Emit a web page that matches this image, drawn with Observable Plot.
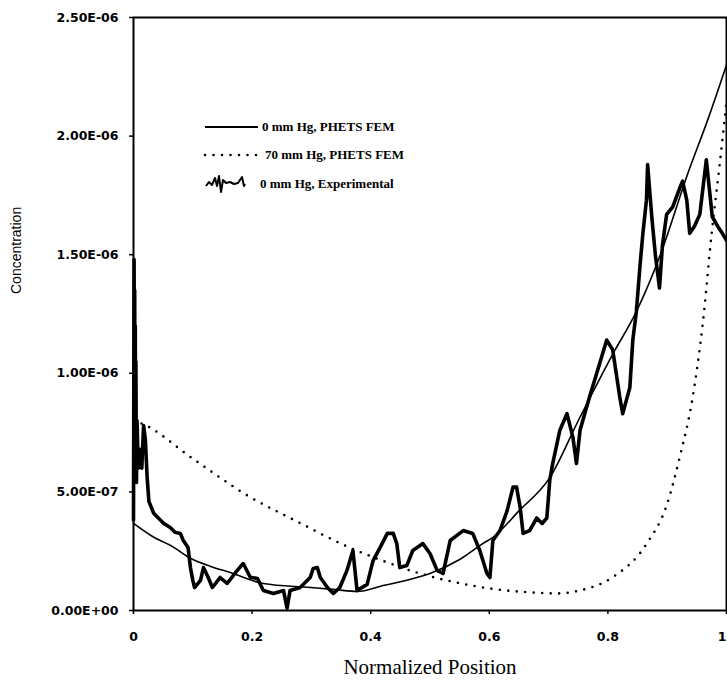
<!DOCTYPE html>
<html>
<head>
<meta charset="utf-8">
<script src="https://cdn.jsdelivr.net/npm/d3@7"></script>
<script src="https://cdn.jsdelivr.net/npm/@observablehq/plot@0.6"></script>
<style>
html,body{margin:0;padding:0;background:#fff;}
#wrap{position:relative;width:727px;height:685px;overflow:hidden;background:#fff;}
.legend{position:absolute;left:0;top:0;font-family:"Liberation Serif",serif;font-weight:bold;font-size:13px;color:#000;}
.row{position:absolute;display:flex;align-items:center;white-space:nowrap;}
.row svg{display:block;}
</style>
</head>
<body>
<div id="wrap"></div>
<script>
// ---- axes ----
const xTicks = [0, 0.2, 0.4, 0.6, 0.8, 1];
const xTickLabels = ["0", "0.2", "0.4", "0.6", "0.8", "1"];
// concentration values are stored in units of 1e-7
const yTicks = [0, 5, 10, 15, 20, 25];
const yTickLabels = ["0.00E+00", "5.00E-07", "1.00E-06", "1.50E-06", "2.00E-06", "2.50E-06"];

const seriesNames = ["0 mm Hg, PHETS FEM", "70 mm Hg, PHETS FEM", "0 mm Hg, Experimental"];

// ---- 0 mm Hg, PHETS FEM (solid) ----
const fem0X = [0, 0.03, 0.068, 0.096, 0.13, 0.163, 0.219, 0.298, 0.34, 0.377, 0.421, 0.478, 0.5, 0.55, 0.589, 0.606, 0.65, 0.702, 0.75, 0.808, 0.848, 0.89, 0.933, 0.97, 1.0];
const fem0C = [3.67, 3.15, 2.66, 2.2, 1.86, 1.6, 1.14, 0.97, 0.88, 0.8, 1.05, 1.39, 1.56, 2.15, 2.82, 3.08, 4.2, 5.6, 8.0, 10.8, 12.6, 15.1, 18.3, 20.8, 23.0];

// ---- 70 mm Hg, PHETS FEM (dotted) ----
const fem70X = [0, 0.012, 0.1, 0.192, 0.28, 0.36, 0.42, 0.478, 0.55, 0.613, 0.66, 0.714, 0.752, 0.808, 0.865, 0.9, 0.921, 0.943, 0.96, 0.975, 0.988, 1.0];
const fem70C = [8.0, 7.9, 6.4, 4.85, 3.7, 2.7, 2.1, 1.6, 1.15, 0.89, 0.78, 0.72, 0.84, 1.4, 2.8, 4.5, 6.45, 9.0, 12.1, 15.9, 18.7, 21.4];

// ---- 0 mm Hg, Experimental (noisy) ----
const expX = [0.000, 0.001, 0.0015, 0.002, 0.0025, 0.003, 0.0035, 0.004, 0.005, 0.006, 0.008, 0.011, 0.014, 0.017, 0.020, 0.023, 0.026, 0.034, 0.051, 0.062, 0.070, 0.079, 0.084, 0.092, 0.094, 0.096, 0.100, 0.103, 0.113, 0.118, 0.126, 0.133, 0.146, 0.158, 0.175, 0.185, 0.197, 0.209, 0.219, 0.236, 0.253, 0.259, 0.264, 0.281, 0.298, 0.303, 0.310, 0.315, 0.327, 0.337, 0.348, 0.360, 0.370, 0.377, 0.394, 0.404, 0.416, 0.428, 0.438, 0.444, 0.449, 0.461, 0.471, 0.488, 0.500, 0.512, 0.522, 0.534, 0.556, 0.572, 0.584, 0.596, 0.601, 0.606, 0.618, 0.630, 0.640, 0.646, 0.652, 0.657, 0.668, 0.680, 0.689, 0.697, 0.702, 0.707, 0.719, 0.731, 0.741, 0.747, 0.753, 0.769, 0.786, 0.798, 0.808, 0.820, 0.825, 0.837, 0.842, 0.848, 0.854, 0.859, 0.865, 0.867, 0.874, 0.880, 0.887, 0.892, 0.899, 0.909, 0.921, 0.926, 0.933, 0.938, 0.946, 0.955, 0.966, 0.971, 0.976, 0.985, 0.993, 1.000];
const expC = [3.8, 14.8, 9.5, 13.5, 7.5, 12.0, 6.5, 10.5, 5.4, 8.0, 6.0, 6.8, 6.0, 7.8, 7.2, 5.6, 4.6, 4.1, 3.67, 3.5, 3.3, 3.25, 2.95, 2.66, 2.23, 1.81, 1.27, 0.97, 1.27, 1.81, 1.39, 0.97, 1.39, 1.14, 1.69, 1.98, 1.4, 1.35, 0.84, 0.72, 0.84, 0.1, 0.84, 0.97, 1.39, 1.77, 1.81, 1.39, 0.97, 0.72, 0.97, 1.69, 2.53, 0.84, 1.1, 2.1, 2.66, 3.25, 3.25, 2.82, 1.81, 1.9, 2.53, 2.82, 2.4, 1.69, 1.56, 2.95, 3.37, 3.25, 2.53, 1.56, 1.39, 2.95, 3.37, 4.2, 5.2, 5.2, 4.35, 3.25, 3.37, 3.9, 3.67, 3.9, 5.5, 6.2, 7.6, 8.3, 7.3, 6.2, 7.6, 9.0, 10.4, 11.4, 11.0, 9.0, 8.3, 9.4, 11.4, 12.6, 14.5, 15.9, 17.3, 18.8, 16.6, 15.0, 13.6, 15.4, 16.7, 17.0, 17.8, 18.1, 17.3, 15.9, 16.2, 16.7, 19.0, 17.8, 16.6, 16.2, 15.9, 15.6];

const toRows = (xs, ys) => xs.map((x, i) => ({x, y: ys[i]}));
const fem0 = toRows(fem0X, fem0C);
const fem70 = toRows(fem70X, fem70C);
const exp = toRows(expX, expC);

const tickText = {fontSize: 12.5, fontWeight: "bold", fontFamily: "DejaVu Sans", label: null, strokeWidth: 1.5, tickSize: 4};

const chart = Plot.plot({
  width: 727,
  height: 685,
  marginLeft: 133,
  marginRight: 1,
  marginTop: 17,
  marginBottom: 75,
  style: {background: "white", color: "black", fontFamily: "DejaVu Sans"},
  x: {domain: [0, 1]},
  y: {domain: [0, 25]},
  marks: [
    Plot.axisY(yTicks, {...tickText, tickPadding: 11, tickFormat: d => yTickLabels[yTicks.indexOf(d)]}),
    Plot.axisX(xTicks.slice(0, -1), {...tickText, tickPadding: 18, tickFormat: d => xTickLabels[xTicks.indexOf(d)]}),
    Plot.axisX(xTicks.slice(-1), {...tickText, tickPadding: 18, textAnchor: "end", tickFormat: d => xTickLabels[xTicks.indexOf(d)]}),
    Plot.frame({stroke: "black", strokeWidth: 2}),
    Plot.line(fem70, {x: "x", y: "y", stroke: "black", strokeWidth: 2.6, strokeDasharray: "0 8.5", strokeLinecap: "round", curve: "monotone-x"}),
    Plot.line(fem0, {x: "x", y: "y", stroke: "black", strokeWidth: 1.6, curve: "monotone-x"}),
    Plot.line(exp, {x: "x", y: "y", stroke: "black", strokeWidth: 3.6, strokeLinejoin: "round", strokeLinecap: "round"}),
    Plot.text(["Normalized Position"], {text: d => d, frameAnchor: "bottom", dy: 63, fontSize: 21, fontFamily: "Liberation Serif", fill: "black"}),
    Plot.text(["Concentration"], {text: d => d, frameAnchor: "left", dx: -117, dy: -20, rotate: -90, fontSize: 14, fontFamily: "Liberation Sans", fill: "black"})
  ]
});

const wrap = document.getElementById("wrap");
wrap.appendChild(chart);

// ---- legend (HTML overlay inside the plot area) ----
const legend = document.createElement("div");
legend.className = "legend";
legend.innerHTML = `
  <div class="row" style="left:205px;top:119px;height:16px;">
    <svg width="57" height="16"><line x1="0" y1="8" x2="53" y2="8" stroke="black" stroke-width="1.8"/></svg>
    <span>${seriesNames[0]}</span>
  </div>
  <div class="row" style="left:203px;top:147px;height:16px;">
    <svg width="62" height="16"><line x1="2" y1="8" x2="54" y2="8" stroke="black" stroke-width="2.6" stroke-dasharray="0 8.5" stroke-linecap="round"/></svg>
    <span>${seriesNames[1]}</span>
  </div>
  <div class="row" style="left:205px;top:173px;height:22px;">
    <svg width="55" height="22"><polyline points="1,13 4,9 7,12 10,5 12,13 14,3 16,19 18,7 21,10 25,9 29,11 33,10 37,4 39,13 40,11" fill="none" stroke="black" stroke-width="2" stroke-linejoin="round"/></svg>
    <span>${seriesNames[2]}</span>
  </div>`;
wrap.appendChild(legend);
</script>
</body>
</html>
